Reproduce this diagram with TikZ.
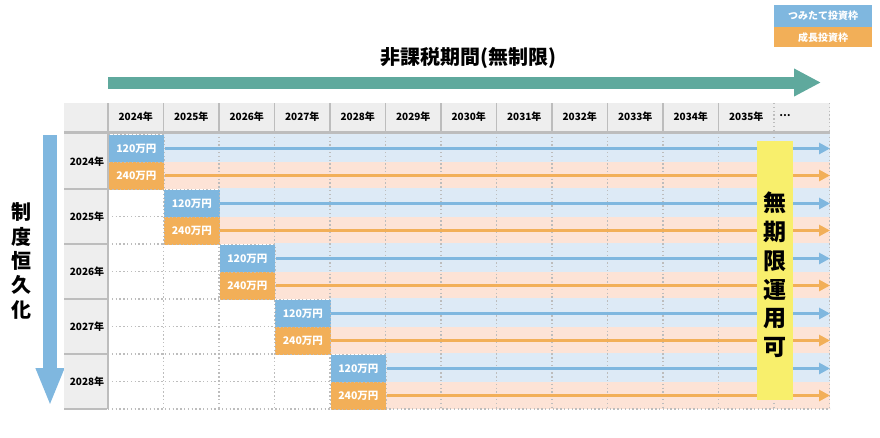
\documentclass[tikz,border=0pt]{standalone}
\usepackage{fontspec}
\setmainfont{Noto Sans CJK JP}
\usetikzlibrary{arrows.meta}
\definecolor{tblue}{HTML}{7FB7DF}
\definecolor{torange}{HTML}{F2AF58}
\definecolor{lblue}{HTML}{DDEAF6}
\definecolor{lpeach}{HTML}{FDE3D6}
\definecolor{teal1}{HTML}{5FA99D}
\definecolor{yel}{HTML}{F8EF6C}
\definecolor{hdr}{HTML}{EEEEEE}
\definecolor{gline}{HTML}{BDBDBD}
\begin{document}
\begin{tikzpicture}[x=1pt,y=-1pt,
  dotline/.style={draw=gline, line width=1.3pt, dash pattern=on 1.3pt off 2.5pt},
  cellbox/.style={draw=gline, line width=1.3pt, dash pattern=on 1.3pt off 2.5pt,
    minimum width=55.5pt, minimum height=27.5pt, inner sep=0pt, text=white,
    font=\bfseries\fontsize{10.5}{11}\selectfont, anchor=north west},
  boxb/.style={cellbox, fill=tblue},
  boxo/.style={cellbox, fill=torange},
  arrb/.style={tblue, line width=3pt, -{Triangle[length=11pt,width=11pt]}},
  arro/.style={torange, line width=3pt, -{Triangle[length=11pt,width=11pt]}},
  hlabel/.style={font=\bfseries\fontsize{10}{11}\selectfont, text=black, inner sep=0pt},
  legend/.style={minimum width=98pt, inner sep=0pt, text=white, anchor=north west,
    font=\bfseries\fontsize{10}{11}\selectfont},
  vtext/.style={align=center, inner sep=0pt, text=black}
]
\useasboundingbox (0,0) rectangle (880,437);

% legend
\node[legend, fill=tblue, minimum height=22pt] (lg1) at (774,5) {つみたて投資枠};
\node[legend, fill=torange, minimum height=20pt] (lg2) at (774,27) {成長投資枠};

% title and teal arrow
\node[font=\bfseries\fontsize{20}{22}\selectfont, inner sep=0pt] (title) at (468,58) {非課税期間(無制限)};
\coordinate (ts) at (108,82.5);
\coordinate (te) at (821,82.5);
\draw[teal1, line width=12pt, -{Triangle[length=27pt,width=26pt]}] (ts) -- (te);

% vertical arrow and text
\coordinate (vs) at (50,135);
\coordinate (ve) at (50,406);
\draw[tblue, line width=14pt, -{Triangle[length=38pt,width=26pt]}] (vs) -- (ve);
\node[vtext, font=\bfseries\fontsize{20}{24.3}\selectfont] (perm) at (22,261) {制\\度\\恒\\久\\化};

% header and left column backgrounds
\fill[hdr] (64,103) rectangle (830,132);
\fill[hdr] (64,132) rectangle (108,409);

% stripes
\foreach \i in {0,...,4} {
  \pgfmathsetmacro\yt{134+55*\i}
  \pgfmathsetmacro\xl{108+55.5*(\i+1)}
  \fill[lblue] (\xl,\yt-1) rectangle (830,\yt+27.5);
  \fill[lpeach] (\xl,\yt+27.5) rectangle (830,\yt+55);
}

% vertical dotted lines in body
\foreach \k in {1,...,13} {
  \draw[dotline] ({108+55.5*\k},133) -- ({108+55.5*\k},409);
}
% header separators
\foreach \k in {1,...,11} {
  \draw[gline, line width=1.6pt] ({108+55.5*\k},103) -- ({108+55.5*\k},132);
}
\foreach \k in {12,13} {
  \draw[dotline] ({108+55.5*\k},103) -- ({108+55.5*\k},132);
}

% horizontal dotted lines in white area
\foreach \i in {1,...,4} {
  \pgfmathsetmacro\yt{134+55*\i}
  \pgfmathsetmacro\xl{108+55.5*\i}
  \draw[dotline] (108,\yt+27.5) -- (\xl,\yt+27.5);
  \draw[dotline] (108,\yt+55) -- (\xl,\yt+55);
}
\draw[dotline] (108,409) -- (830,409);

% boxes and arrows
\foreach \i in {0,...,4} {
  \pgfmathsetmacro\yt{134+55*\i}
  \pgfmathsetmacro\xl{108+55.5*\i}
  \node[boxb] (b\i) at (\xl,\yt) {120万円};
  \node[boxo] (o\i) at (\xl,\yt+27.5) {240万円};
  \coordinate (eb\i) at (830,\yt+14.5);
  \coordinate (eo\i) at (830,\yt+41.5);
  \draw[arrb] (b\i.east |- eb\i) -- (eb\i);
  \draw[arro] (o\i.east |- eo\i) -- (eo\i);
}

% yellow box
\node[fill=yel, minimum width=36pt, minimum height=259pt, inner sep=0pt] (yl) at (775,270.5) {};
\node[vtext, font=\bfseries\fontsize{23}{28.8}\selectfont] (ylt) at (775,275) {無\\期\\限\\運\\用\\可};

% grid lines
\draw[gline, line width=2.5pt] (64,132.5) -- (830,132.5);
\draw[gline, line width=2pt] (108,103) -- (108,409);
\foreach \i in {1,...,5} {
  \draw[gline, line width=1.2pt] (64,{134+55*\i}) -- (107,{134+55*\i});
}

% header labels
\foreach \k in {0,...,11} {
  \pgfmathtruncatemacro\yr{2024+\k}
  \node[hlabel] (h\k) at ({108+55.5*\k+27.75},117) {\yr 年};
}
\node[hlabel] (hdots) at (785,116) {…};

% row labels
\foreach \i in {0,...,4} {
  \pgfmathtruncatemacro\yr{2024+\i}
  \node[hlabel] (r\i) at (87,{134+55*\i+28}) {\yr 年};
}
\end{tikzpicture}
\end{document}
